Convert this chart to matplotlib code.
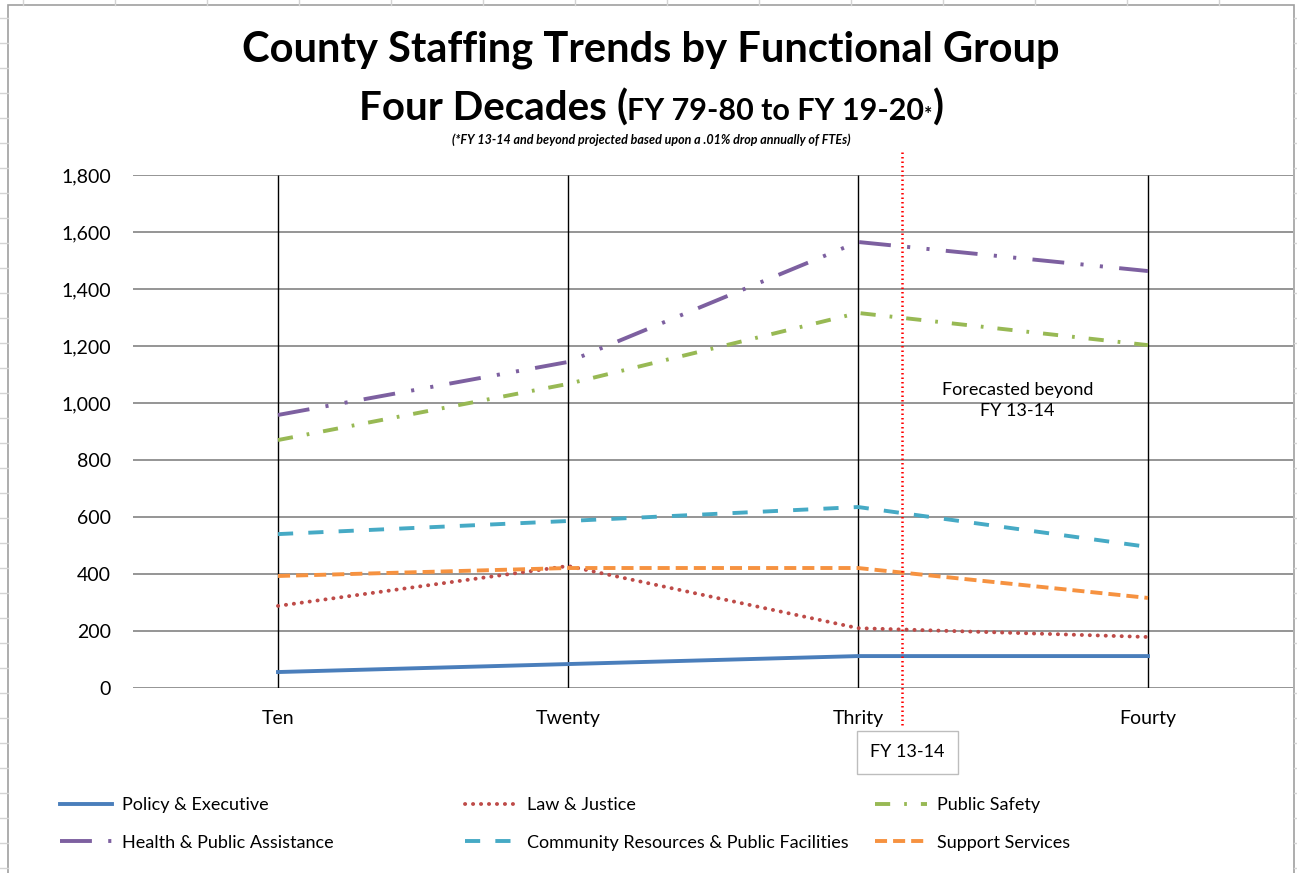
import matplotlib
matplotlib.use("Agg")
import matplotlib.pyplot as plt
from matplotlib.lines import Line2D
from matplotlib.patches import Rectangle

plt.rcParams['font.family'] = ['Lato', 'DejaVu Sans']

categories = ['Ten', 'Twenty', 'Thrity', 'Fourty']
policy_exec = [56, 84, 112, 112]
law_justice = [288, 428, 210, 179]
public_safety = [870, 1067, 1316, 1203]
health_assist = [958, 1144, 1565, 1463]
community_res = [540, 586, 635, 495]
support_svc = [393, 421, 421, 316]
yticks = [0, 200, 400, 600, 800, 1000, 1200, 1400, 1600, 1800]
forecast_x = 2.15  # FY 13-14 marker, between Thrity and Fourty

series = [
    ('Policy & Executive', policy_exec, '#4A7EBB', '-', 'butt'),
    ('Law & Justice', law_justice, '#BE4B48', (0, (0.05, 2.0)), 'round'),
    ('Public Safety', public_safety, '#98B954', (0, (3.9, 3.6, 0.7, 3.6)), 'butt'),
    ('Health & Public Assistance', health_assist, '#7D60A0', (0, (8.2, 4.2, 0.8, 4.2, 0.8, 4.2)), 'butt'),
    ('Community Resources & Public Facilities', community_res, '#46AAC5', (0, (3.9, 3.9)), 'butt'),
    ('Support Services', support_svc, '#F69240', (0, (3.1, 1.55)), 'butt'),
]

W, H = 1297, 873
fig = plt.figure(figsize=(W / 100, H / 100), dpi=100)

def fx(px):
    return px / W

def fy(py):
    return 1 - py / H

# spreadsheet cells behind the chart
for yy in range(18, 873, 25):
    fig.add_artist(Line2D([0, fx(8)], [fy(yy), fy(yy)], color='#d4d4d4', lw=1))
    fig.add_artist(Line2D([fx(1294), 1], [fy(yy), fy(yy)], color='#d4d4d4', lw=1))
for xx in range(23, 1297, 92):
    fig.add_artist(Line2D([fx(xx), fx(xx)], [fy(0), fy(5)], color='#d4d4d4', lw=1))
fig.add_artist(Rectangle((fx(8), fy(880)), fx(1294) - fx(8), fy(5) - fy(880),
                         fill=False, edgecolor='#a0a0a0', lw=1.2))

ax = fig.add_axes([fx(133), fy(688), fx(1293) - fx(133), fy(175) - fy(688)])
ax.set_xlim(-0.5, len(categories) - 0.5)
ax.set_ylim(0, 1800)
for s in ax.spines.values():
    s.set_visible(False)
ax.set_yticks(yticks)
ax.set_yticklabels([f'{v:,}' for v in yticks], fontsize=14)
ax.set_xticks(range(len(categories)))
ax.set_xticklabels(categories, fontsize=14)
ax.tick_params(axis='y', length=0, pad=16)
ax.tick_params(axis='x', length=0, pad=16)
ax.grid(axis='y', color='#8c8c8c', lw=1.3)
ax.set_axisbelow(True)
ax.vlines(range(len(categories)), 0, 1800, color='black', lw=1, zorder=1)

handles = {}
for name, vals, col, ls, cap in series:
    h, = ax.plot(range(len(categories)), vals, color=col, lw=2.8, linestyle=ls,
                 dash_capstyle=cap, label=name, zorder=3)
    handles[name] = h

# forecast marker
ax.plot([forecast_x, forecast_x], [-130, 1890], color='red', lw=1.8,
        linestyle=(0, (0.6, 1.2)), clip_on=False, zorder=4)
ax.text(forecast_x + 0.02, -225, 'FY 13-14', ha='center', va='center', fontsize=13,
        bbox=dict(boxstyle='square,pad=0.75', fc='white', ec='#bdbdbd', lw=1))
ax.text(2.55, 1008, 'Forecasted beyond\nFY 13-14', ha='center', va='center',
        fontsize=13, linespacing=1.4)

# titles
fig.text(fx(651), fy(50), 'County Staffing Trends by Functional Group',
         ha='center', va='center', fontsize=30, fontweight='bold')

renderer = fig.canvas.get_renderer()
pieces = [('Four Decades ', 29), ('(', 29), ('FY 79-80 to FY 19-20', 22), ('*', 14), (')', 29)]
texts = []
for s, size in pieces:
    t = fig.text(0, fy(120), s, ha='left', va='baseline', fontsize=size, fontweight='bold')
    texts.append(t)
widths = [t.get_window_extent(renderer).width / W for t in texts]
x = fx(651) - sum(widths) / 2
for t, w in zip(texts, widths):
    t.set_x(x)
    x += w

fig.text(fx(651), fy(140), '(*FY 13-14 and beyond projected based upon a .01% drop annually of FTEs)',
         ha='center', va='center', fontsize=9, fontweight='bold', style='italic')

# legend, three columns of two rows
cols = [
    (['Policy & Executive', 'Health & Public Assistance'], 60),
    (['Law & Justice', 'Community Resources & Public Facilities'], 465),
    (['Public Safety', 'Support Services'], 875),
]
for names, xpx in cols:
    fig.legend([handles[n] for n in names], names, loc='upper left',
               bbox_to_anchor=(fx(xpx), fy(797)), frameon=False, fontsize=13,
               handlelength=2.9, handletextpad=0.55, labelspacing=1.2,
               borderaxespad=0, borderpad=0)

fig.savefig('out.png', dpi=100)
